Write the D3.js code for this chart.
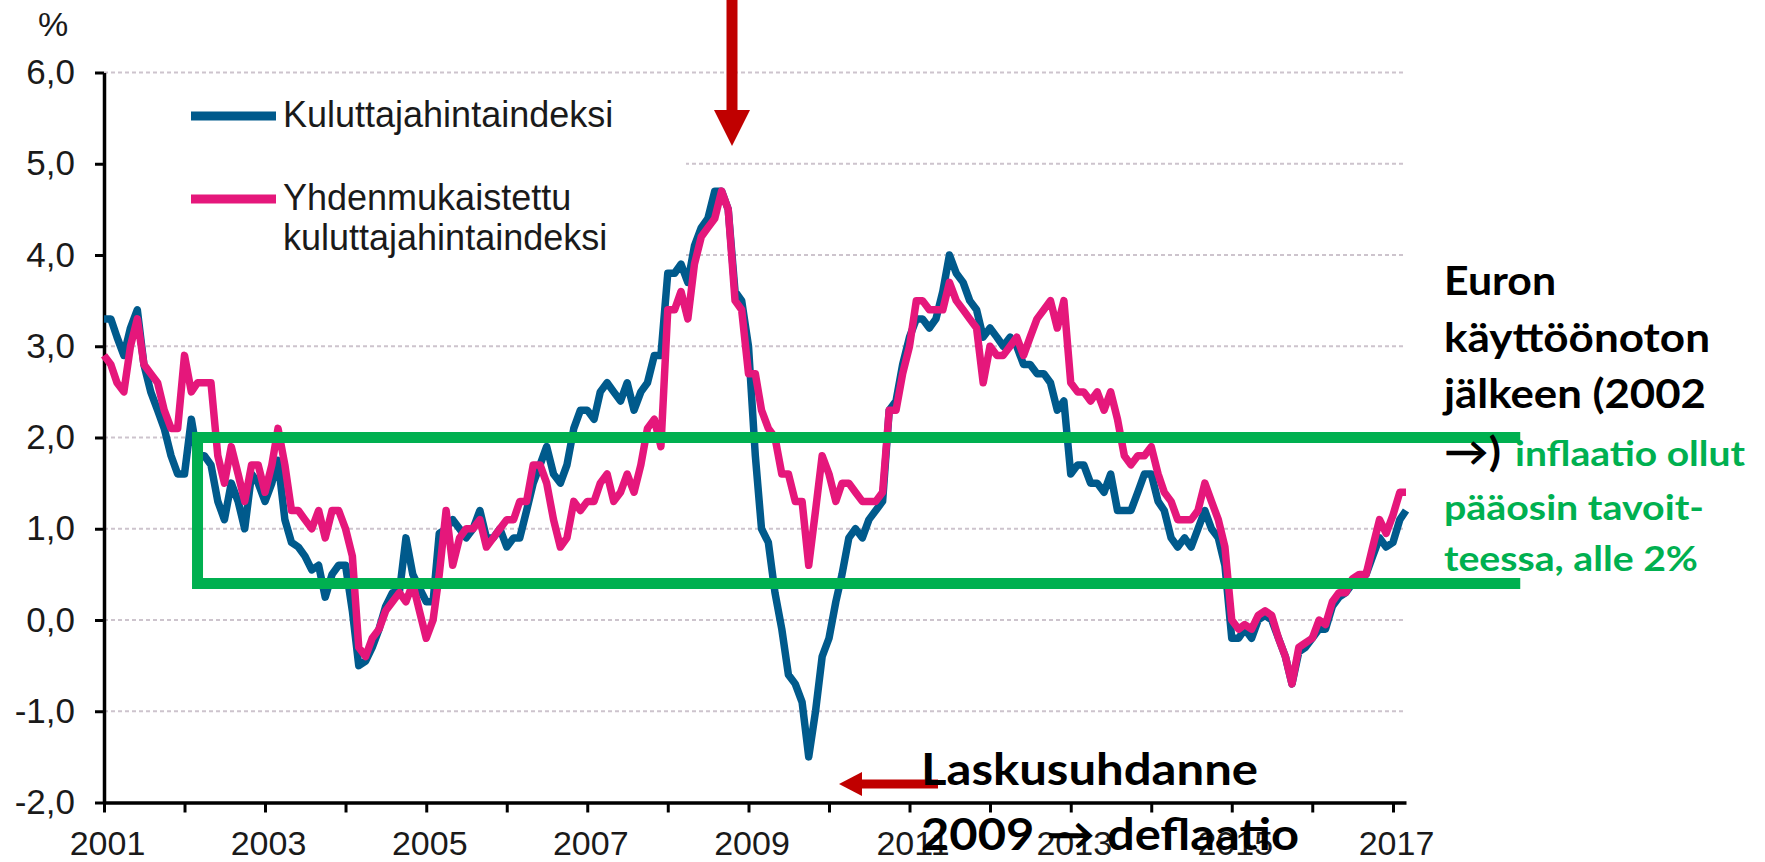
<!DOCTYPE html>
<html>
<head>
<meta charset="utf-8">
<script src="https://cdn.jsdelivr.net/npm/d3@7"></script>
<style>
      html, body { margin: 0; padding: 0; background: #fff; }
      svg { display: block; }
</style>
</head>
<body>
<div id="chart"></div>
<script>
// monthly series, first value = January 2001
const firstMonth = "2001-01";

// Kuluttajahintaindeksi, % change
const khi = [
      3.3, 3.3, 3.1, 2.9, 3.2, 3.4, 2.8, 2.5, 2.3, 2.1, 1.8, 1.6,
      1.6, 2.2, 1.8, 1.8, 1.7, 1.3, 1.1, 1.5, 1.3, 1.0, 1.6, 1.5,
      1.3, 1.5, 1.75, 1.1, 0.85, 0.8, 0.7, 0.55, 0.6, 0.25, 0.5, 0.6,
      0.6, 0.1, -0.5, -0.45, -0.3, -0.1, 0.15, 0.3, 0.3, 0.9, 0.5, 0.35,
      0.2, 0.2, 0.95, 1.0, 1.1, 1.0, 0.9, 1.0, 1.2, 0.9, 0.9, 1.0,
      0.8, 0.9, 0.9, 1.2, 1.5, 1.7, 1.9, 1.6, 1.5, 1.7, 2.1, 2.3,
      2.3, 2.2, 2.5, 2.6, 2.5, 2.4, 2.6, 2.3, 2.5, 2.6, 2.9, 2.9,
      3.8, 3.8, 3.9, 3.7, 4.1, 4.3, 4.4, 4.7, 4.7, 4.5, 3.6, 3.5,
      3.0, 1.8, 1.0, 0.85, 0.3, -0.1, -0.6, -0.7, -0.9, -1.5, -1.0, -0.4,
      -0.2, 0.2, 0.5, 0.9, 1.0, 0.9, 1.1, 1.2, 1.3, 2.3, 2.4, 2.8,
      3.1, 3.3, 3.3, 3.2, 3.3, 3.6, 4.0, 3.8, 3.7, 3.5, 3.4, 3.1,
      3.2, 3.1, 3.0, 3.1, 3.0, 2.8, 2.8, 2.7, 2.7, 2.6, 2.3, 2.4,
      1.6, 1.7, 1.7, 1.5, 1.5, 1.4, 1.6, 1.2, 1.2, 1.2, 1.4, 1.6,
      1.6, 1.3, 1.2, 0.9, 0.8, 0.9, 0.8, 1.0, 1.2, 1.0, 0.9, 0.6,
      -0.2, -0.2, -0.1, -0.2, 0.0, 0.05, 0.0, -0.2, -0.4, -0.7, -0.35, -0.3,
      -0.2, -0.1, -0.1, 0.15, 0.25, 0.3, 0.4, 0.45, 0.5, 0.7, 0.9, 0.8,
      0.85, 1.1, 1.2
];

// Yhdenmukaistettu kuluttajahintaindeksi, % change
const ykhi = [
      2.9, 2.8, 2.6, 2.5, 3.0, 3.3, 2.8, 2.7, 2.6, 2.3, 2.1, 2.1,
      2.9, 2.5, 2.6, 2.6, 2.6, 1.8, 1.5, 1.9, 1.6, 1.3, 1.7, 1.7,
      1.4, 1.7, 2.1, 1.7, 1.2, 1.2, 1.1, 1.0, 1.2, 0.9, 1.2, 1.2,
      1.0, 0.7, -0.3, -0.4, -0.2, -0.1, 0.1, 0.2, 0.3, 0.2, 0.4, 0.1,
      -0.2, 0.0, 0.5, 1.2, 0.6, 0.9, 1.0, 1.0, 1.1, 0.8, 0.9, 1.0,
      1.1, 1.1, 1.3, 1.3, 1.7, 1.7, 1.5, 1.1, 0.8, 0.9, 1.3, 1.2,
      1.3, 1.3, 1.5, 1.6, 1.3, 1.4, 1.6, 1.4, 1.7, 2.1, 2.2, 1.9,
      3.4, 3.4, 3.6, 3.3, 3.9, 4.2, 4.3, 4.4, 4.7, 4.5, 3.5, 3.4,
      2.7, 2.7, 2.3, 2.1, 2.0, 1.6, 1.6, 1.3, 1.3, 0.6, 1.2, 1.8,
      1.6, 1.3, 1.5, 1.5, 1.4, 1.3, 1.3, 1.3, 1.4, 2.3, 2.3, 2.7,
      3.0, 3.5, 3.5, 3.4, 3.4, 3.4, 3.7, 3.5, 3.4, 3.3, 3.2, 2.6,
      3.0, 2.9, 2.9, 3.0, 3.1, 2.9, 3.1, 3.3, 3.4, 3.5, 3.2, 3.5,
      2.6, 2.5, 2.5, 2.4, 2.5, 2.3, 2.5, 2.2, 1.8, 1.7, 1.8, 1.8,
      1.9, 1.6, 1.4, 1.3, 1.1, 1.1, 1.1, 1.2, 1.5, 1.3, 1.1, 0.8,
      0.0, -0.1, -0.05, -0.1, 0.05, 0.1, 0.05, -0.2, -0.4, -0.7, -0.3, -0.25,
      -0.2, 0.0, -0.05, 0.2, 0.3, 0.3, 0.45, 0.5, 0.5, 0.8, 1.1, 0.95,
      1.15, 1.4, 1.4
];

const yTicks = [-2, -1, 0, 1, 2, 3, 4, 5, 6];
const tickYears = [2001, 2002, 2003, 2004, 2005, 2006, 2007, 2008, 2009, 2010, 2011, 2012, 2013, 2014, 2015, 2016, 2017];
const labelYears = [2001, 2003, 2005, 2007, 2009, 2011, 2013, 2015, 2017];
const legendNames = [["Kuluttajahintaindeksi"], ["Yhdenmukaistettu", "kuluttajahintaindeksi"]];
const seriesColors = ["#005a8c", "#e5177b"];

// tavoitealue (green box) in data units
const targetLow = 0.4;
const targetHigh = 2.0;
const targetStart = "2002-03";
const targetEnd = "2018-08";

const W = 1765, H = 862;
const parseMonth = d3.timeParse("%Y-%m");
const start = parseMonth(firstMonth);
const dates = khi.map((v, i) => d3.timeMonth.offset(start, i));

const fi = d3.formatLocale({decimal: ",", thousands: " ", grouping: [3], currency: ["", " €"], minus: "-"});
const fmt = fi.format(".1f");

const x = d3.scaleTime()
      .domain([start, dates[dates.length - 1]])
      .range([104, 1406]);

const y = d3.scaleLinear()
      .domain([-2, 6])
      .range([802.5, 72.5]);

const svg = d3.select("#chart").append("svg")
      .attr("width", W)
      .attr("height", H);

// gridlines
svg.append("g")
      .selectAll("line")
      .data(yTicks.filter(d => d !== -2))
      .join("line")
      .attr("x1", x.range()[0])
      .attr("x2", x.range()[1])
      .attr("y1", d => y(d))
      .attr("y2", d => y(d))
      .attr("stroke", "#cdc4cd")
      .attr("stroke-width", 2.2)
      .attr("stroke-dasharray", "4,3");

// legend background hides the grid behind it
svg.append("rect")
      .attr("x", 106)
      .attr("y", y(5.8))
      .attr("width", 580)
      .attr("height", y(3.9) - y(5.8))
      .attr("fill", "#fff");

// axes
const yAxis = svg.append("g")
      .attr("transform", "translate(" + x.range()[0] + ",0)")
      .call(d3.axisLeft(y).tickValues(yTicks).tickSize(9).tickSizeOuter(0).tickPadding(20).tickFormat(fmt));

const xAxis = svg.append("g")
      .attr("transform", "translate(0," + y(-2) + ")")
      .call(d3.axisBottom(x)
            .tickValues(tickYears.map(yr => new Date(yr, 0, 1)))
            .tickSize(10).tickSizeOuter(0).tickPadding(18)
            .tickFormat(d => labelYears.includes(d.getFullYear()) ? d.getFullYear() : ""));

[yAxis, xAxis].forEach(ax => {
      ax.select(".domain").attr("stroke", "#000").attr("stroke-width", 3.5);
      ax.selectAll(".tick line").attr("stroke", "#000").attr("stroke-width", 3);
      ax.selectAll(".tick text")
            .attr("fill", "#1a1a1a")
            .style("font-family", "'Liberation Sans', Arial, sans-serif")
            .style("font-size", "35px");
});
xAxis.selectAll(".tick text").attr("dx", 3).style("font-size", "34px");

svg.append("text")
      .attr("x", 53)
      .attr("y", 36)
      .attr("text-anchor", "middle")
      .attr("fill", "#1a1a1a")
      .style("font-family", "'Liberation Sans', Arial, sans-serif")
      .style("font-size", "34px")
      .text("%");

// series
const line = d3.line()
      .x((d, i) => x(dates[i]))
      .y(d => y(d));

[khi, ykhi].forEach((series, k) => {
      svg.append("path")
            .datum(series)
            .attr("fill", "none")
            .attr("stroke", seriesColors[k])
            .attr("stroke-width", 7.5)
            .attr("stroke-linejoin", "round")
            .attr("d", line);
});

// legend
const legendY = [116, 199];
legendNames.forEach((lines, k) => {
      svg.append("line")
            .attr("x1", 191).attr("x2", 276)
            .attr("y1", legendY[k]).attr("y2", legendY[k])
            .attr("stroke", seriesColors[k])
            .attr("stroke-width", 9);
      const t = svg.append("text")
            .attr("x", 283)
            .attr("y", legendY[k] + 11)
            .attr("fill", "#1a1a1a")
            .style("font-family", "'Liberation Sans', Arial, sans-serif")
            .style("font-size", "36px");
      lines.forEach((s, j) => {
            t.append("tspan").attr("x", 283).attr("dy", j ? 40 : 0).text(s);
      });
});

// green target box
const gx0 = x(parseMonth(targetStart)), gx1 = x(parseMonth(targetEnd));
svg.append("path")
      .attr("fill", "none")
      .attr("stroke", "#00b050")
      .attr("stroke-width", 11)
      .attr("stroke-linejoin", "miter")
      .attr("d", "M" + gx1 + "," + y(targetHigh) + "H" + gx0 + "V" + y(targetLow) + "H" + gx1);

// red arrows
const red = "#c00000";
svg.append("rect").attr("x", 726.5).attr("y", 0).attr("width", 11).attr("height", 111).attr("fill", red);
svg.append("path").attr("d", "M714,110L750,110L732,146Z").attr("fill", red);
svg.append("rect").attr("x", 860).attr("y", 779.5).attr("width", 78).attr("height", 9).attr("fill", red);
svg.append("path").attr("d", "M839,784L862,772L862,796Z").attr("fill", red);

// annotations
const notes = [
      {text: "Euron", x: 1444, y: 295, size: 40, color: "#000", w: 112},
      {text: "käyttöönoton", x: 1444, y: 352, size: 40, color: "#000", w: 266},
      {text: "jälkeen (2002", x: 1444, y: 408, size: 40, color: "#000", w: 262},
      {text: "→)", x: 1444, y: 466, size: 40, color: "#000", w: 57},
      {text: "inflaatio ollut", x: 1515, y: 466, size: 35, color: "#00b050", w: 230},
      {text: "pääosin tavoit-", x: 1444, y: 520, size: 35, color: "#00b050", w: 260},
      {text: "teessa, alle 2%", x: 1444, y: 571, size: 35, color: "#00b050", w: 254},
      {text: "Laskusuhdanne", x: 921, y: 785, size: 44, color: "#000", w: 337},
      {text: "2009 → deflaatio", x: 921, y: 850, size: 44, color: "#000", w: 378}
];

svg.append("g")
      .selectAll("text")
      .data(notes)
      .join("text")
      .attr("x", d => d.x)
      .attr("y", d => d.y)
      .attr("fill", d => d.color)
      .attr("textLength", d => d.w)
      .attr("lengthAdjust", "spacingAndGlyphs")
      .style("font-family", "Lato, 'DejaVu Sans', sans-serif")
      .style("font-weight", "bold")
      .style("font-size", d => d.size + "px")
      .text(d => d.text);
</script>
</body>
</html>
